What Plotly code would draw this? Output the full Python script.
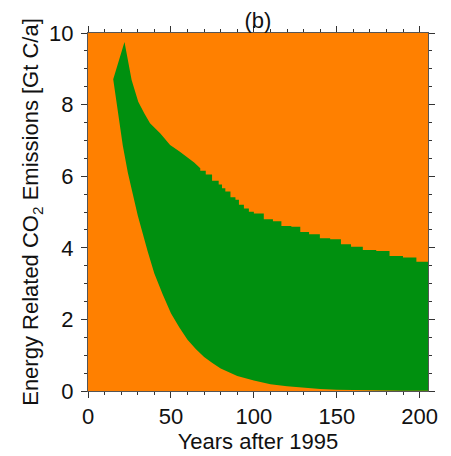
import plotly.graph_objects as go

# upper envelope: sloped part (rise to the peak and first decline)
slope_years = [15.2, 22, 26.3, 30.3, 34, 37.4, 43.5, 49.5, 55, 59.6, 64, 67.7]
slope_vals = [8.71, 9.75, 8.69, 8.08, 7.75, 7.48, 7.2, 6.87, 6.7, 6.54, 6.38, 6.22]

# upper envelope: stepped part (edges and the level held between them)
step_edges = [67.7, 71, 74.8, 78.8, 80.8, 82.8, 85.9, 88.9, 91, 94, 97, 100, 106, 111.5,
              116.6, 122.6, 128, 133.3, 139.8, 146, 152.5, 158.6, 165.7, 173.8, 181.8,
              189.9, 198, 205]
step_levels = [6.15, 6.05, 5.87, 5.77, 5.66, 5.57, 5.41, 5.34, 5.20, 5.10, 5.01, 4.96, 4.80,
               4.74, 4.61, 4.59, 4.44, 4.38, 4.27, 4.24, 4.10, 4.03, 3.94, 3.91, 3.77, 3.73,
               3.61]

# lower curve (fast decline)
low_years = [15.2, 18, 21, 24, 27, 30, 33, 36, 40, 45, 50, 55, 60, 65, 70, 75, 80, 90, 100,
             110, 120, 130, 140, 150, 160, 170, 180, 190, 205]
low_vals = [8.71, 7.75, 6.85, 6.1, 5.5, 4.9, 4.4, 3.9, 3.28, 2.7, 2.17, 1.78, 1.43, 1.17, 0.95,
            0.78, 0.63, 0.42, 0.29, 0.19, 0.13, 0.085, 0.057, 0.038, 0.025, 0.017, 0.011,
            0.008, 0.004]

orange = '#FF8000'
green = '#00900F'

# outline of the green band: upper edge left->right, then lower edge right->left
px = list(slope_years)
py = list(slope_vals)
for i in range(len(step_levels)):
    px += [step_edges[i], step_edges[i + 1]]
    py += [step_levels[i], step_levels[i]]
px += low_years[::-1]
py += low_vals[::-1]

fig = go.Figure()
fig.add_trace(go.Scatter(x=px, y=py, mode='lines', line=dict(width=0, color=green),
                         fill='toself', fillcolor=green, hoverinfo='skip'))

axfont = dict(family='Liberation Sans, Arial, sans-serif', size=22, color='#111')
common = dict(showline=True, linecolor='#555', linewidth=1, mirror='ticks',
              ticks='outside', ticklen=6, tickcolor='#333', showgrid=False, zeroline=False,
              tickfont=axfont, automargin=False)
fig.update_xaxes(range=[0, 205], dtick=50, tick0=0,
                 minor=dict(dtick=10, ticks='outside', ticklen=3, tickcolor='#333'),
                 title=dict(text='Years after 1995', font=axfont, standoff=0), **common)
fig.update_yaxes(range=[0, 10], dtick=2, tick0=0, ticklabelstandoff=3,
                 minor=dict(dtick=0.5, ticks='outside', ticklen=3, tickcolor='#333'),
                 title=dict(text='Energy Related CO<sub>2</sub> Emissions [Gt C/a]',
                            font=axfont, standoff=4), **common)
fig.update_layout(width=443, height=448, showlegend=False,
                  margin=dict(l=80, r=23, t=25, b=65),
                  plot_bgcolor=orange, paper_bgcolor='white',
                  title=dict(text='(b)', x=0.5, xref='paper', xanchor='center',
                             y=1, yref='paper', yanchor='bottom', pad=dict(b=5),
                             font=axfont))
fig.write_html("out.html")
